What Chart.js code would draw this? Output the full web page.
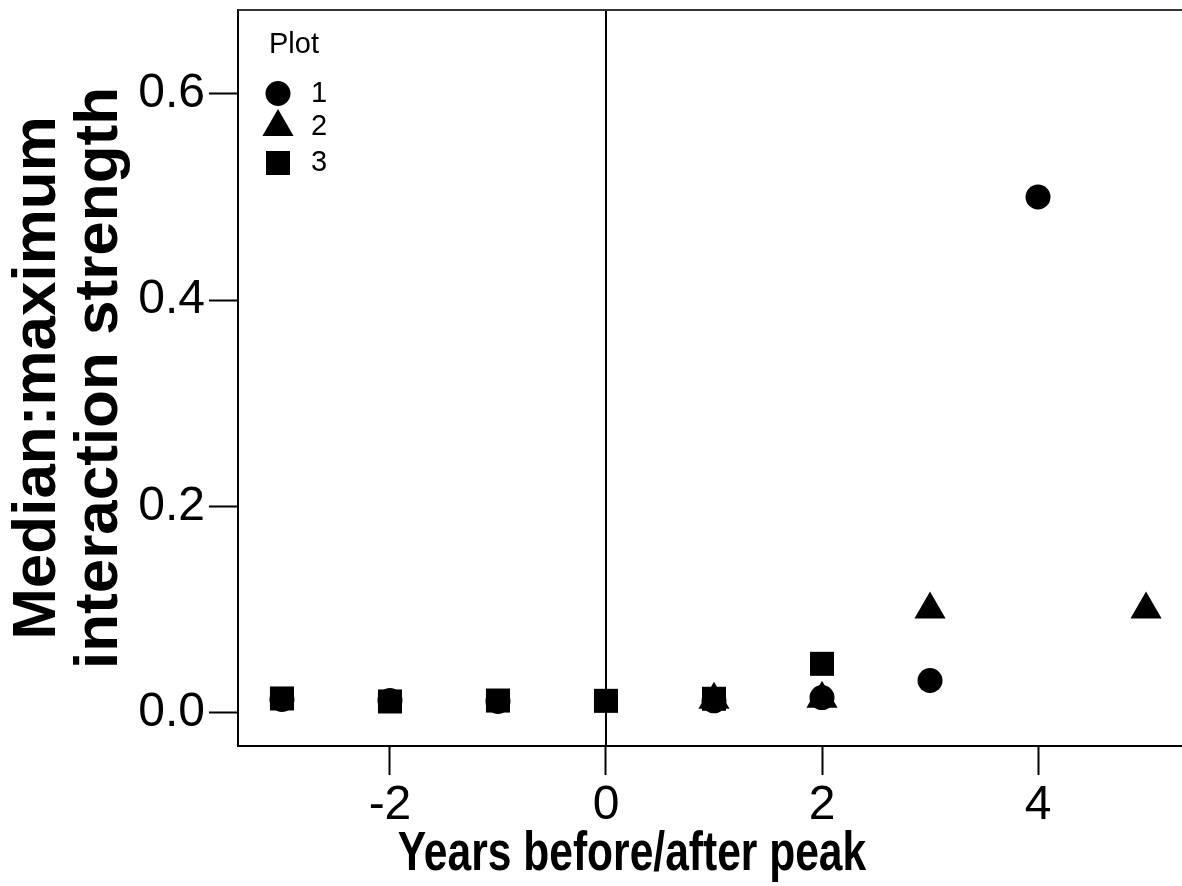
<!DOCTYPE html>
<html>
<head>
<meta charset="utf-8">
<script src="https://cdn.jsdelivr.net/npm/chart.js"></script>
<style>
  body { margin: 0; background: #fff; }
</style>
</head>
<body>
<canvas id="myChart" width="1182" height="886"></canvas>
<script>
// data
const years = [-3, -2, -1, 0, 1, 2, 3, 4, 5];
const plot1 = [0.0126, 0.0117, 0.0107, null, 0.0113, 0.0145, 0.031, 0.5, null];
const plot2 = [null, null, null, null, 0.0124, 0.0134, 0.1, null, 0.1];
const plot3 = [0.0136, 0.0107, 0.0116, 0.0113, 0.0133, 0.0472, null, null, null];
const plotNames = ['1', '2', '3'];
const xTicks = [-2, 0, 2, 4];
const yTicks = [0, 0.2, 0.4, 0.6];
const xTitle = 'Years before/after peak';
const yTitle = ['Median:maximum', 'interaction strength'];

const toPoints = (vals) => years
    .map((x, i) => ({ x: x, y: vals[i] }))
    .filter(p => p.y !== null);

const shapes = ['circle', 'triangle', 'rect'];
const radii = [12.5, 18, 17];

// no extra label padding, keep the plot box fixed
const noPad = (s) => {
    s.paddingTop = 0;
    s.paddingBottom = 0;
    s.paddingLeft = 0;
    s.paddingRight = 0;
};

// vertical line at 0 + top border
const framePlugin = {
    id: 'frame',
    beforeDatasetsDraw(chart) {
        const { ctx, chartArea, scales } = chart;
        ctx.save();
        ctx.strokeStyle = '#000';
        ctx.lineWidth = 2;
        const x0 = scales.x.getPixelForValue(0);
        ctx.beginPath();
        ctx.moveTo(x0, chartArea.top);
        ctx.lineTo(x0, chartArea.bottom);
        ctx.stroke();
        ctx.strokeStyle = '#333';
        ctx.beginPath();
        ctx.moveTo(chartArea.left, chartArea.top);
        ctx.lineTo(chartArea.right, chartArea.top);
        ctx.stroke();
        ctx.restore();
    },
    // condensed bold x title like the original
    afterDraw(chart) {
        const { ctx, chartArea } = chart;
        ctx.save();
        ctx.fillStyle = '#000';
        ctx.font = 'bold 56px "Liberation Sans", Arial, sans-serif';
        ctx.textAlign = 'center';
        ctx.textBaseline = 'alphabetic';
        ctx.translate(chartArea.left + 394, chartArea.bottom + 124);
        ctx.scale(0.76, 1);
        ctx.fillText(xTitle, 0, 0);
        ctx.restore();
    }
};

// legend in the top left corner
const legendPlugin = {
    id: 'plotLegend',
    afterDraw(chart) {
        const { ctx, chartArea } = chart;
        const lx = chartArea.left + 40;
        const top = chartArea.top;
        ctx.save();
        ctx.fillStyle = '#000';
        ctx.font = '29px "Liberation Sans", Arial, sans-serif';
        ctx.textBaseline = 'middle';
        ctx.textAlign = 'left';
        ctx.fillText('Plot', chartArea.left + 31, top + 35);
        const rowY = [83.5, 117, 153];
        plotNames.forEach((name, i) => {
            const cy = top + rowY[i];
            ctx.beginPath();
            if (shapes[i] === 'circle') {
                ctx.arc(lx, cy, 12.5, 0, Math.PI * 2);
            } else if (shapes[i] === 'triangle') {
                const r = 18;
                ctx.moveTo(lx, cy - r);
                ctx.lineTo(lx + r * Math.sin(Math.PI / 3), cy + r / 2);
                ctx.lineTo(lx - r * Math.sin(Math.PI / 3), cy + r / 2);
                ctx.closePath();
            } else {
                ctx.rect(lx - 12, cy - 12, 24, 24);
            }
            ctx.fill();
            ctx.fillText(name, chartArea.left + 73, cy);
        });
        ctx.restore();
    }
};

const data = {
    datasets: [plot1, plot2, plot3].map((vals, i) => ({
        label: plotNames[i],
        data: toPoints(vals),
        pointStyle: shapes[i],
        pointRadius: radii[i],
        pointHoverRadius: radii[i],
        backgroundColor: '#000',
        borderColor: '#000',
        borderWidth: 0,
        showLine: false,
        order: 2 - i
    }))
};

const config = {
    type: 'scatter',
    data: data,
    options: {
        responsive: false,
        animation: false,
        devicePixelRatio: 1,
        layout: { autoPadding: false, padding: { top: 10, right: 0, left: 0, bottom: 0 } },
        plugins: {
            legend: { display: false },
            tooltip: { enabled: false }
        },
        scales: {
            x: {
                type: 'linear',
                min: -3.407,
                max: 5.333,
                afterFit: (s) => { s.height = 140; noPad(s); },
                afterBuildTicks: (s) => { s.ticks = xTicks.map(v => ({ value: v })); },
                grid: { drawOnChartArea: false, tickLength: 29, tickWidth: 2, tickColor: '#000' },
                border: { color: '#000', width: 2 },
                ticks: {
                    color: '#000',
                    padding: 2,
                    maxRotation: 0,
                    font: { family: '"Liberation Sans", Arial, sans-serif', size: 48 },
                    callback: (v) => String(v)
                },
                title: { display: false }
            },
            y: {
                type: 'linear',
                min: -0.0325,
                max: 0.6814,
                afterFit: (s) => { s.width = 238; noPad(s); },
                afterBuildTicks: (s) => { s.ticks = yTicks.map(v => ({ value: v })); },
                grid: { drawOnChartArea: false, tickLength: 29, tickWidth: 2, tickColor: '#000' },
                border: { color: '#000', width: 2 },
                ticks: {
                    color: '#000',
                    padding: 4,
                    font: { family: '"Liberation Sans", Arial, sans-serif', size: 48 },
                    callback: (v) => v.toFixed(1)
                },
                title: {
                    display: true,
                    text: yTitle,
                    color: '#000',
                    padding: { top: 7, bottom: 0 },
                    font: { family: '"Liberation Sans", Arial, sans-serif', size: 62, weight: 'bold', lineHeight: 1.0 }
                }
            }
        }
    },
    plugins: [framePlugin, legendPlugin]
};

const myChart = new Chart(document.getElementById('myChart'), config);
</script>
</body>
</html>
